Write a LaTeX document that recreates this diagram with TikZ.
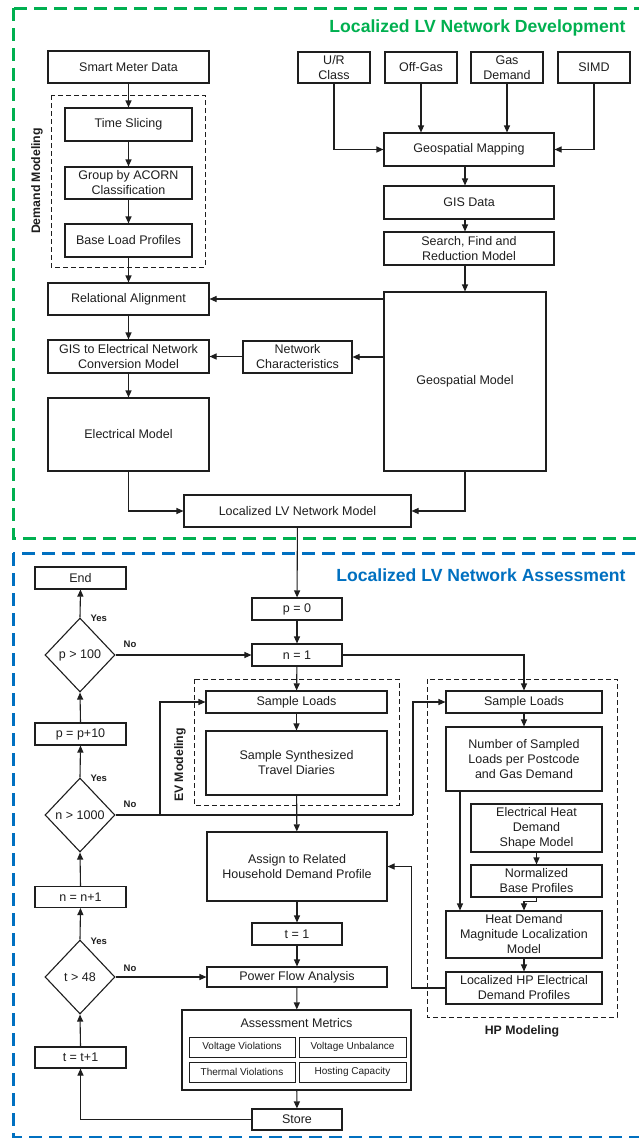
\documentclass[tikz,border=0pt]{standalone}
\usepackage{fontspec}
\setmainfont{Liberation Sans}
\usetikzlibrary{arrows.meta,shapes.geometric,calc}
\definecolor{devgreen}{RGB}{0,176,80}
\definecolor{assblue}{RGB}{0,112,192}
\definecolor{ink}{RGB}{30,30,30}
\begin{document}
\begin{tikzpicture}[x=1pt,y=-1pt,
  box/.style={draw=ink, line width=1.1pt, fill=white, align=center, inner sep=0pt,
    font=\fontsize{12.5}{15}\selectfont, text=ink},
  sbox/.style={box, line width=1pt, font=\fontsize{10}{12}\selectfont},
  dec/.style={draw=ink, line width=1.1pt, fill=white, diamond, inner sep=0pt,
    minimum width=70pt, minimum height=74pt, font=\fontsize{12.5}{15}\selectfont, text=ink},
  arr/.style={draw=ink, line width=1.1pt, -{Triangle[length=7pt,width=6pt]}},
  ln/.style={draw=ink, line width=1.1pt},
  grp/.style={draw=ink, line width=1pt, dash pattern=on 5pt off 3pt},
  frame/.style={line width=3pt, dash pattern=on 13pt off 7pt},
  lbl/.style={font=\bfseries\fontsize{12.3}{14}\selectfont, text=ink},
  yn/.style={font=\bfseries\fontsize{9.5}{11}\selectfont, text=ink},
  ttl/.style={font=\bfseries\fontsize{17.6}{20}\selectfont, anchor=east}]

\useasboundingbox (0,0) rectangle (639,1138);
\fill[white] (0,0) rectangle (639,1138);
\clip (0,0) rectangle (639,1138);

% section frames
\draw[frame, devgreen] (13,8) rectangle (660,538);
\draw[frame, assblue] (13,553) rectangle (660,1137);
\node[ttl, text=devgreen] (ttldev) at (629,28) {Localized LV Network Development};
\node[ttl, text=assblue] (ttlass) at (629,575) {Localized LV Network Assessment};

% ---------------- network development ----------------
\draw[grp] (51,95) rectangle (205,267);
\node[lbl, rotate=90] (dmlbl) at (37,181) {Demand Modeling};

\node[box, minimum width=161pt, minimum height=32pt] (smd) at (128.5,67) {Smart Meter Data};
\node[box, minimum width=127pt, minimum height=33pt] (ts) at (128.5,124.5) {Time Slicing};
\node[box, minimum width=127pt, minimum height=32pt] (acorn) at (128.5,183) {Group by ACORN\\Classification};
\node[box, minimum width=127pt, minimum height=33pt] (blp) at (128.5,240.5) {Base Load Profiles};

\node[box, minimum width=72pt, minimum height=31pt] (ur) at (334,67.5) {U/R\\Class};
\node[box, minimum width=72pt, minimum height=31pt] (offg) at (421,67.5) {Off-Gas};
\node[box, minimum width=72pt, minimum height=31pt] (gasd) at (507,67.5) {Gas\\Demand};
\node[box, minimum width=72pt, minimum height=31pt] (simd) at (594,67.5) {SIMD};

\node[box, minimum width=170pt, minimum height=33pt] (gmap) at (469,149.5) {Geospatial Mapping};
\node[box, minimum width=170pt, minimum height=33pt] (gis) at (469,202.5) {GIS Data};
\node[box, minimum width=170pt, minimum height=33pt] (sfr) at (469,248.5) {Search, Find and\\Reduction Model};

\node[box, minimum width=161pt, minimum height=32pt] (ra) at (128.5,299) {Relational Alignment};
\node[box, minimum width=161pt, minimum height=33pt] (g2e) at (128.5,356.5) {GIS to Electrical Network\\Conversion Model};
\node[box, minimum width=109pt, minimum height=32pt] (nc) at (297.5,357) {Network\\Characteristics};
\node[box, minimum width=162pt, minimum height=179pt] (gm) at (465,381.5) {Geospatial Model};
\node[box, minimum width=161pt, minimum height=73pt] (em) at (128.5,434.5) {Electrical Model};
\node[box, minimum width=227pt, minimum height=32pt] (lvm) at (297.5,511) {Localized LV Network Model};

\draw[arr] (smd) -- (ts);
\draw[arr] (ts) -- (acorn);
\draw[arr] (acorn) -- (blp);
\draw[arr] (blp) -- (ra);
\draw[arr] (ur.south) |- (gmap.west);
\draw[arr] (simd.south) |- (gmap.east);
\draw[arr] (offg.south) -- (offg.south |- gmap.north);
\draw[arr] (gasd.south) -- (gasd.south |- gmap.north);
\draw[arr] (gmap.south -| gm.north) -- (gis.north -| gm.north);
\draw[arr] (gis.south -| gm.north) -- (sfr.north -| gm.north);
\draw[arr] (sfr.south -| gm.north) -- (gm.north);
\draw[arr] (gm.west |- ra.east) -- (ra.east);
\draw[arr] (gm.west |- nc.east) -- (nc.east);
\draw[arr] (nc.west |- g2e.east) -- (g2e.east);
\draw[arr] (ra) -- (g2e);
\draw[arr] (g2e) -- (em);
\draw[arr] (em.south) |- (lvm.west);
\draw[arr] (gm.south) |- (lvm.east);

% ---------------- network assessment ----------------
\draw[grp] (194,679) rectangle (399,805);
\draw[grp] (427,679) rectangle (617,1017);
\node[lbl, rotate=90] (evlbl) at (180,765) {EV Modeling};
\node[lbl] (hplbl) at (522,1031) {HP Modeling};

\node[box, minimum width=90pt, minimum height=22pt] (p0) at (297,609) {p = 0};
\node[box, minimum width=90pt, minimum height=22pt] (n1) at (297,655) {n = 1};
\node[box, minimum width=91pt, minimum height=22pt] (end) at (80.5,578) {End};
\node[dec] (d100) at (80,655) {p > 100};
\node[box, minimum width=91pt, minimum height=22pt] (pp) at (80.5,734) {p = p+10};
\node[dec] (d1000) at (80,815) {n > 1000};
\node[box, minimum width=91pt, minimum height=21pt] (nn) at (80.5,897) {n = n+1};
\node[dec] (d48) at (80,977) {t > 48};
\node[box, minimum width=91pt, minimum height=21pt] (tt) at (80.5,1057.5) {t = t+1};

\node[box, minimum width=181pt, minimum height=22pt] (evsl) at (296.5,702) {Sample Loads};
\node[box, minimum width=181pt, minimum height=64pt] (ssd) at (296.5,763) {Sample Synthesized\\Travel Diaries};

\node[box, minimum width=156pt, minimum height=22pt] (hpsl) at (524,702) {Sample Loads};
\node[box, minimum width=156pt, minimum height=64pt] (nsl) at (524,759) {Number of Sampled\\Loads per Postcode\\and Gas Demand};
\node[box, minimum width=131pt, minimum height=48pt] (ehd) at (536.5,828) {Electrical Heat\\Demand\\Shape Model};
\node[box, minimum width=131pt, minimum height=32pt] (nbp) at (536.5,881) {Normalized\\Base Profiles};
\node[box, minimum width=156pt, minimum height=47pt] (hdm) at (524,934.5) {Heat Demand\\Magnitude Localization\\Model};
\node[box, minimum width=156pt, minimum height=32pt] (lhp) at (524,988) {Localized HP Electrical\\Demand Profiles};

\node[box, minimum width=180pt, minimum height=69pt] (asg) at (297,866.5) {Assign to Related\\Household Demand Profile};
\node[box, minimum width=90pt, minimum height=22pt] (t1) at (297,934) {t = 1};
\node[box, minimum width=180pt, minimum height=20pt] (pfa) at (297,977) {Power Flow Analysis};
\node[box, minimum width=229pt, minimum height=80pt] (am) at (296.5,1050) {};
\node[text=ink, font=\fontsize{12.5}{15}\selectfont] (amt) at (296.5,1023) {Assessment Metrics};
\node[sbox, minimum width=106pt, minimum height=20pt] (vv) at (242,1047) {Voltage Violations};
\node[sbox, minimum width=107pt, minimum height=20pt] (vu) at (352.5,1047) {Voltage Unbalance};
\node[sbox, minimum width=106pt, minimum height=20pt] (tv) at (242,1072) {Thermal Violations};
\node[sbox, minimum width=107pt, minimum height=20pt] (hc) at (352.5,1072) {Hosting Capacity};
\node[box, minimum width=90pt, minimum height=21pt] (store) at (297,1119.5) {Store};

% main loop
\draw[arr] (lvm) -- (p0);
\draw[arr] (p0) -- (n1);
\draw[arr] (n1) -- (evsl);
\draw[arr] (evsl) -- (ssd);
\draw[arr] (ssd) -- (asg);
\draw[arr] (asg) -- (t1);
\draw[arr] (t1) -- (pfa);
\draw[arr] (pfa) -- (am);
\draw[arr] (am) -- (store);
\draw[arr] (n1.east) -| (hpsl.north);

% decisions
\draw[arr] (d100.north) -- (end.south);
\node[yn, anchor=west] (y100) at (87,618) {Yes};
\draw[arr] (d100.east) -- (n1.west);
\node[yn] (n100) at (130,644) {No};
\draw[arr] (pp.north) -- (d100.south);
\draw[arr] (d1000.north) -- (pp.south);
\node[yn, anchor=west] (y1000) at (87,778) {Yes};
\node[yn] (n1000) at (130,804) {No};
\coordinate (split) at (160,815);
\coordinate (turn) at (413,815);
\draw[ln] (d1000.east) -- (turn);
\draw[arr] (split) |- (evsl.west);
\draw[arr] (turn) |- (hpsl.west);
\draw[arr] (nn.north) -- (d1000.south);
\draw[arr] (d48.north) -- (nn.south);
\node[yn, anchor=west] (y48) at (87,941) {Yes};
\draw[arr] (d48.east) -- (pfa.west);
\node[yn] (n48) at (130,968) {No};
\draw[arr] (tt.north) -- (d48.south);
\draw[arr] (store.west) -| (tt.south);

% heat pump chain
\draw[arr] (hpsl) -- (nsl);
\draw[arr] ([xshift=-64pt]nsl.south) -- ([xshift=-64pt]hdm.north);
\draw[arr] (ehd) -- (nbp);
\draw[arr] (nbp.south) -- ++(0,4) -| (hdm.north);
\draw[arr] (hdm) -- (lhp);
\draw[arr] (lhp.west) -- ++(-34,0) |- (asg.east);

\end{tikzpicture}
\end{document}
